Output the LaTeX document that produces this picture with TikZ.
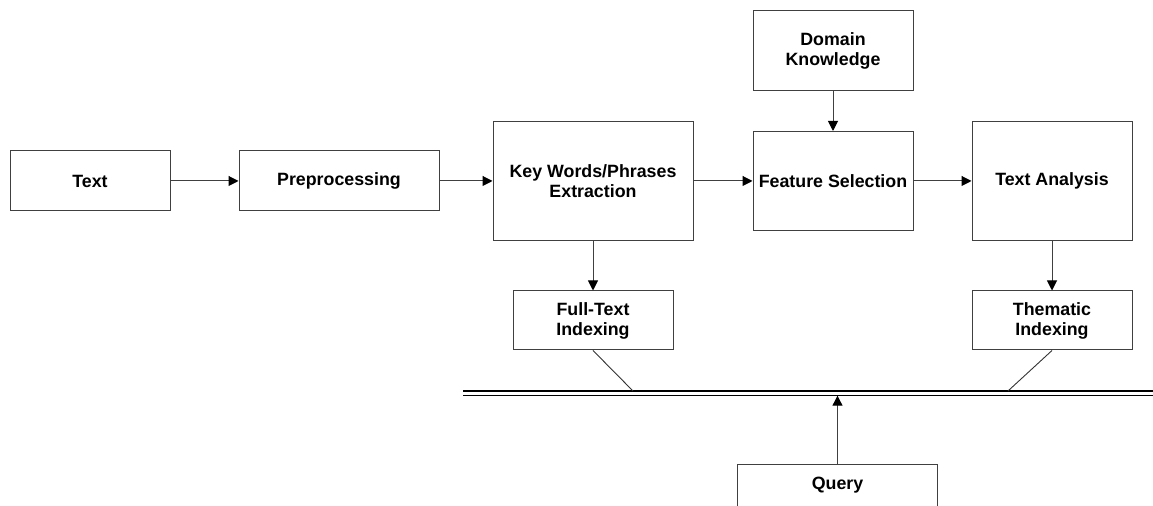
\documentclass[tikz,border=0pt]{standalone}
\usepackage{fontspec}
\setmainfont{Liberation Sans}
\usetikzlibrary{arrows.meta}
\tikzset{
  stage box/.style={
    draw=black!75,
    line width=0.5pt,
    align=center,
    inner sep=0pt,
    font=\bfseries\fontsize{8.9}{10}\selectfont,
  },
  flow/.style={
    draw=black!75,
    line width=0.5pt,
    -{Triangle[length=5pt,width=5pt,color=black]},
  },
  tap/.style={
    draw=black!80,
    line width=0.45pt,
  },
  bus/.style={
    draw=black,
    line width=0.7pt,
    double distance=1.45pt,
  },
}

\begin{document}
\begin{tikzpicture}[x=0.5pt, y=0.5pt]
  \useasboundingbox (0,0) rectangle (1153,506);

  \node[stage box, minimum width=80pt,  minimum height=30pt]   (text)     at (90,325)     {Text};
  \node[stage box, minimum width=100pt, minimum height=30pt]   (prep)     at (339,325)    {Preprocessing};
  \node[stage box, minimum width=100pt, minimum height=59.5pt] (kwe)      at (593,325)    {Key Words/Phrases\\Extraction};
  \node[stage box, minimum width=80pt,  minimum height=49.5pt] (featsel)  at (833,325)    {Feature Selection};
  \node[stage box, minimum width=80pt,  minimum height=40pt]   (domain)   at (833,455)    {Domain\\Knowledge};
  \node[stage box, minimum width=80pt,  minimum height=59.5pt] (analysis) at (1052,325)   {Text Analysis};
  \node[stage box, minimum width=80pt,  minimum height=29.5pt] (ftindex)  at (593,185.5)  {Full-Text\\Indexing};
  \node[stage box, minimum width=80pt,  minimum height=29.5pt] (thindex)  at (1052,185.5) {Thematic\\Indexing};
  \node[stage box, minimum width=100pt, text height=12.5pt, text depth=47.5pt,
        anchor=north] (query) at (837.5,42) {Query};

  % index bus
  \coordinate (bus west)  at (463,112.85);
  \coordinate (bus east)  at (1160,112.85);
  \coordinate (bus base)  at (463,110.3);
  \coordinate (tap left)  at (633,115);
  \coordinate (tap right) at (1008,115);
  \draw[bus] (bus west) -- (bus east);

  \path[flow] (text)     edge (prep);
  \path[flow] (prep)     edge (kwe);
  \path[flow] (kwe)      edge (featsel);
  \path[flow] (featsel)  edge (analysis);
  \path[flow] (domain)   edge (featsel);
  \path[flow] (kwe)      edge (ftindex);
  \path[flow] (analysis) edge (thindex);

  \draw[tap] (ftindex.south) -- (tap left);
  \draw[tap] (thindex.south) -- (tap right);
  \draw[flow] (query.north) -- (query.north |- bus base);
\end{tikzpicture}
\end{document}
